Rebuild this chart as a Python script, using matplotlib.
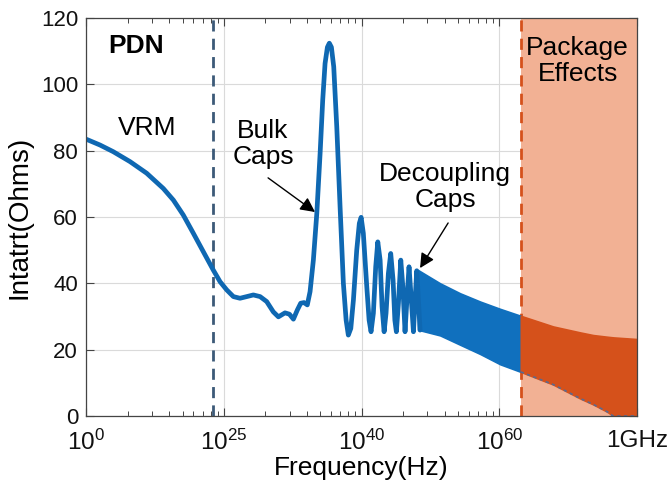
import numpy as np
import matplotlib
matplotlib.use('Agg')
import matplotlib.pyplot as plt
from matplotlib.ticker import LogLocator, NullFormatter, FixedLocator, FixedFormatter

plt.rcParams['font.family'] = ['Liberation Sans', 'DejaVu Sans']
plt.rcParams['mathtext.fontset'] = 'custom'
plt.rcParams['mathtext.rm'] = 'Liberation Sans'
plt.rcParams['mathtext.it'] = 'Liberation Sans:italic'
plt.rcParams['mathtext.bf'] = 'Liberation Sans:bold'

# ---- data ----
# resolved impedance curve: log10(frequency in Hz) and impedance (Ohms)
curve_logf = [5.002, 5.099, 5.195, 5.317, 5.438, 5.559, 5.632, 5.704, 5.777, 5.850,
              5.922, 5.971, 6.020, 6.068, 6.116, 6.165, 6.213, 6.262, 6.310, 6.358,
              6.395, 6.443, 6.475, 6.504, 6.533, 6.557, 6.581, 6.605, 6.625, 6.649,
              6.674, 6.698, 6.717, 6.734, 6.751, 6.765, 6.780, 6.797, 6.819, 6.843,
              6.867, 6.887, 6.903, 6.921, 6.940, 6.964, 6.983, 6.996, 7.012, 7.037,
              7.054, 7.068, 7.085, 7.102, 7.117, 7.134, 7.148, 7.163, 7.177, 7.194,
              7.211, 7.228, 7.241, 7.252, 7.267, 7.284, 7.299, 7.315, 7.330, 7.344,
              7.359, 7.376, 7.388, 7.400, 7.412, 7.424]
curve_ohms = [83.4, 81.7, 79.7, 76.7, 73.2, 68.6, 65.1, 60.6, 55.1, 49.5,
              44.0, 40.5, 38.0, 36.0, 35.5, 36.0, 36.5, 36.0, 34.5, 31.4,
              29.9, 31.1, 30.7, 29.2, 32.0, 34.0, 34.2, 33.5, 37.5, 47.0,
              61.1, 79.2, 95.3, 106.3, 111.2, 112.4, 111.2, 105.3, 87.2, 63.1,
              40.0, 28.9, 24.4, 26.4, 35.0, 50.0, 58.1, 59.9, 55.1, 39.0,
              28.9, 25.4, 31.0, 45.0, 52.5, 47.0, 33.0, 25.4, 31.0, 43.0,
              49.0, 41.0, 28.9, 25.4, 34.0, 47.0, 39.0, 25.4, 36.0, 45.0,
              36.0, 25.4, 35.0, 43.8, 35.0, 25.9]

# dense decoupling resonances (envelope)
band_logf = [7.41, 7.57, 7.715, 7.861, 8.006, 8.156]
band_upper = [44.0, 40.0, 37.0, 34.5, 32.3, 30.2]
band_lower = [26.0, 24.3, 21.5, 18.7, 15.6, 13.3]

# package-effect resonances (envelope)
pkg_logf = [8.156, 8.391, 8.587, 8.682, 8.783, 8.827, 9.0]
pkg_upper = [30.2, 27.0, 25.2, 24.4, 23.9, 23.7, 23.2]
pkg_lower = [13.3, 9.5, 5.3, 3.5, 1.3, 0.0, 0.0]

vrm_boundary_logf = 5.92
pkg_boundary_logf = 8.156

xtick_logf = [5, 6, 7, 8, 9]
xtick_labels = ['10$^{0}$', '10$^{25}$', '10$^{40}$', '10$^{60}$', '1GHz']
yticks = [0, 20, 40, 60, 80, 100, 120]

# ---- figure ----
fig = plt.figure(figsize=(6.67, 5.0), dpi=100)
ax = fig.add_axes([0.1295, 0.168, 0.8255, 0.796])

blue = '#0F68B2'
orange = '#D5511B'
shade = '#F2B194'
navy = '#3C5A78'

f = lambda lf: 10.0 ** np.asarray(lf, dtype=float)

ax.axvspan(f(pkg_boundary_logf), f(9.0), color=shade, zorder=1, lw=0)
ax.axvline(f(vrm_boundary_logf), color=navy, ls=(0, (4, 2.6)), lw=2.0, zorder=2)
ax.axvline(f(pkg_boundary_logf), color=orange, ls=(0, (4, 2.6)), lw=2.0, zorder=2)

ax.fill_between(f(band_logf), band_lower, band_upper, color='#1070BE', lw=1.2,
                edgecolor='#1070BE', zorder=3)
ax.fill_between(f(pkg_logf), pkg_lower, pkg_upper, color=orange, lw=1.2,
                edgecolor=orange, zorder=3)
ax.plot(f(pkg_logf), pkg_lower, color='#5A6A90', lw=1.2, ls=(0, (2, 2)), zorder=3)
ax.plot(f(curve_logf), curve_ohms, color=blue, lw=3.4, solid_joinstyle='round',
        solid_capstyle='round', zorder=4)

ax.set_xscale('log')
ax.set_xlim(f(5), f(9))
ax.set_ylim(0, 120)
ax.xaxis.set_major_locator(FixedLocator(f(xtick_logf)))
ax.xaxis.set_major_formatter(FixedFormatter(xtick_labels))
ax.xaxis.set_minor_locator(LogLocator(base=10, subs=np.arange(2, 10)))
ax.xaxis.set_minor_formatter(NullFormatter())
ax.set_yticks(yticks)

ax.set_axisbelow(True)
ax.grid(True, which='major', color='#DADADA', lw=0.8, zorder=0)
ax.tick_params(which='both', direction='in', top=True, right=True, colors='#444444',
               labelcolor='#111111')
ax.tick_params(which='major', length=6, width=0.8, labelsize=16)
ax.tick_params(axis='x', which='major', pad=10, labelsize=17.5)
ax.tick_params(axis='y', which='major', pad=6)
ax.tick_params(which='minor', length=3.5, width=0.7)
for s in ax.spines.values():
    s.set_color('#444444')
    s.set_linewidth(0.9)
    s.set_zorder(6)

ax.set_xlabel('Frequency(Hz)', fontsize=19, labelpad=1)
ax.set_ylabel('Intatrt(Ohms)', fontsize=20, labelpad=6)

ax.text(f(5.157), 111.5, 'PDN', fontsize=19, fontweight='bold', ha='left', va='center', zorder=7)
ax.text(f(5.44), 86.8, 'VRM', fontsize=19, ha='center', va='center', zorder=7)
ax.text(f(6.283), 82.0, 'Bulk\nCaps', fontsize=19, ha='center', va='center',
        linespacing=1.1, zorder=7)
ax.text(f(7.606), 69.0, 'Decoupling\nCaps', fontsize=19, ha='center', va='center',
        linespacing=1.1, zorder=7)
ax.text(f(8.569), 107.0, 'Package\nEffects', fontsize=19, ha='center', va='center',
        linespacing=1.1, zorder=7)

arrow = dict(arrowstyle='-|>', color='black', lw=1.0, mutation_scale=22, shrinkA=0, shrinkB=0)
ax.annotate('', xy=(f(6.661), 61.5), xytext=(f(6.32), 71.8), arrowprops=arrow, zorder=7)
ax.annotate('', xy=(f(7.424), 44.6), xytext=(f(7.628), 58.2), arrowprops=arrow, zorder=7)

fig.savefig('out.png', dpi=100)
